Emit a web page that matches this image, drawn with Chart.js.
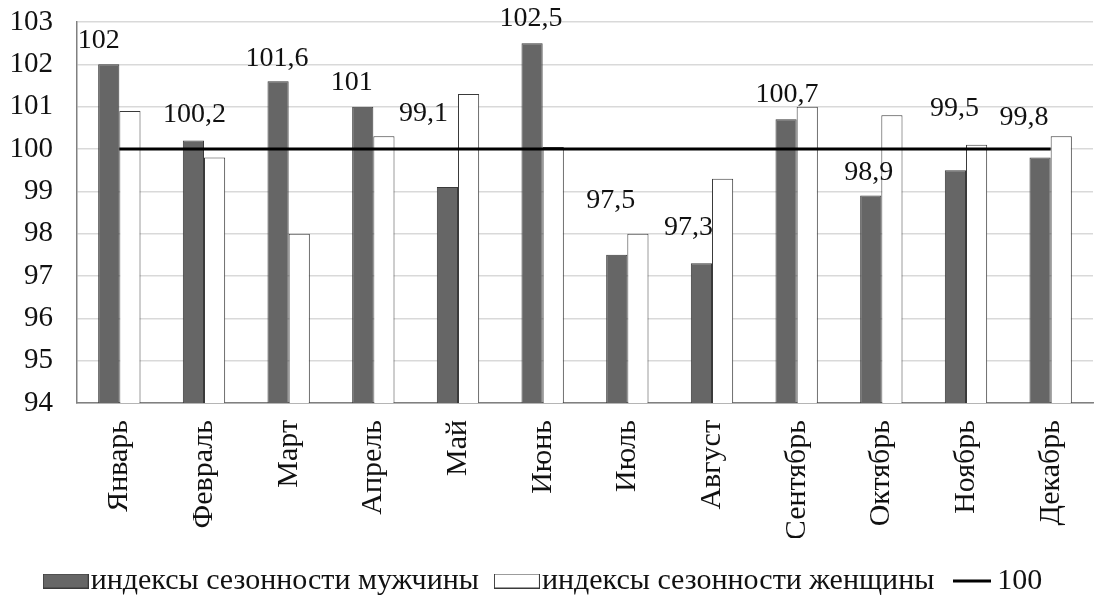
<!DOCTYPE html>
<html>
<head>
<meta charset="utf-8">
<script src="https://cdn.jsdelivr.net/npm/chart.js@4"></script>
<style>
  html, body { margin: 0; padding: 0; background: #fff; }
  #wrap { width: 1098px; height: 596px; }
</style>
</head>
<body>
<div id="wrap"><canvas id="c" width="1098" height="596"></canvas></div>
<script>
const months = ['Январь','Февраль','Март','Апрель','Май','Июнь','Июль','Август','Сентябрь','Октябрь','Ноябрь','Декабрь'];
const maleIndex = [102, 100.2, 101.6, 101, 99.1, 102.5, 97.5, 97.3, 100.7, 98.9, 99.5, 99.8];
const femaleIndex = [100.9, 99.8, 98.0, 100.3, 101.3, 100.05, 98.0, 99.3, 101.0, 100.8, 100.1, 100.3];
const baseline = [100, 100, 100, 100, 100, 100, 100, 100, 100, 100, 100, 100];
const yTicks = [94, 95, 96, 97, 98, 99, 100, 101, 102, 103];
const seriesNames = ['индексы сезонности мужчины', 'индексы сезонности женщины', '100'];

// label placement offsets (px) relative to the top centre of each male bar
const labelDx = [-10, 1, -1, -11, -24, -1, -6, -13, 1, -2, -1, -16];
const labelDy = [-24, -26, -23, -24, -73, -25, -54, -36, -25, -23, -62, -40];

const FONT = '"Liberation Serif"';

// legend swatches (styling only)
function swatchBox(fill, stroke) {
  const c = document.createElement('canvas');
  c.width = 46; c.height = 15;
  const g = c.getContext('2d');
  g.fillStyle = fill;
  g.fillRect(0, 0, 46, 15);
  g.strokeStyle = stroke;
  g.lineWidth = 1;
  g.strokeRect(0.5, 0.5, 45, 14);
  return c;
}
function swatchLine(color) {
  const c = document.createElement('canvas');
  c.width = 38; c.height = 4;
  const g = c.getContext('2d');
  g.fillStyle = color;
  g.fillRect(0, 0.5, 38, 3);
  return c;
}

const valueLabels = {
  id: 'valueLabels',
  afterDatasetsDraw(chart) {
    const meta = chart.getDatasetMeta(0);
    const ctx = chart.ctx;
    ctx.save();
    ctx.font = '28px ' + FONT;
    ctx.fillStyle = '#111';
    ctx.textAlign = 'center';
    ctx.textBaseline = 'middle';
    meta.data.forEach((bar, i) => {
      const txt = String(maleIndex[i]).replace('.', ',');
      ctx.fillText(txt, bar.x + labelDx[i], bar.y + labelDy[i]);
    });
    ctx.restore();
  }
};

new Chart(document.getElementById('c'), {
  data: {
    labels: months,
    datasets: [
      {
        type: 'bar',
        label: seriesNames[0],
        data: maleIndex,
        backgroundColor: '#666666',
        borderColor: '#3a3a3a',
        borderWidth: 1,
        pointStyle: swatchBox('#666666', '#3a3a3a'),
        order: 2,
        categoryPercentage: 0.5,
        barPercentage: 1.0
      },
      {
        type: 'bar',
        label: seriesNames[1],
        data: femaleIndex,
        backgroundColor: '#ffffff',
        borderColor: '#3a3a3a',
        borderWidth: 1,
        pointStyle: swatchBox('#ffffff', '#3a3a3a'),
        order: 3,
        categoryPercentage: 0.5,
        barPercentage: 1.0
      },
      {
        type: 'line',
        label: seriesNames[2],
        data: baseline,
        borderColor: '#000',
        backgroundColor: '#000',
        borderWidth: 3,
        pointRadius: 0,
        pointHoverRadius: 0,
        pointStyle: swatchLine('#000'),
        fill: false,
        order: 1
      }
    ]
  },
  options: {
    responsive: false,
    animation: false,
    layout: { padding: { left: 5, right: 5, top: 22, bottom: -10 } },
    scales: {
      x: {
        grid: { display: false, drawTicks: false },
        border: { display: true, color: '#808080', width: 1.5 },
        ticks: {
          color: '#111',
          font: { family: FONT, size: 30 },
          minRotation: 90,
          maxRotation: 90,
          padding: 17,
          autoSkip: false
        },
        afterFit(scale) {
          scale.height = 135;
          scale.paddingLeft = 0;
          scale.paddingRight = 0;
        }
      },
      y: {
        min: 94,
        max: 103,
        afterBuildTicks(scale) { scale.ticks = yTicks.map(v => ({ value: v })); },
        grid: { color: '#d9d9d9', lineWidth: 1.5, drawTicks: false },
        border: { display: true, color: '#808080', width: 1.5 },
        ticks: {
          color: '#111',
          font: { family: FONT, size: 29 },
          padding: 24
        },
        afterFit(scale) {
          scale.width = 72;
          scale.paddingTop = 0;
          scale.paddingBottom = 0;
        }
      }
    },
    plugins: {
      tooltip: { enabled: false },
      legend: {
        position: 'bottom',
        labels: {
          usePointStyle: true,
          pointStyleWidth: 20,
          boxHeight: 15,
          color: '#111',
          font: { family: FONT, size: 30 },
          padding: 28,
          sort: (a, b) => a.datasetIndex - b.datasetIndex
        }
      }
    }
  },
  plugins: [valueLabels]
});
</script>
</body>
</html>
